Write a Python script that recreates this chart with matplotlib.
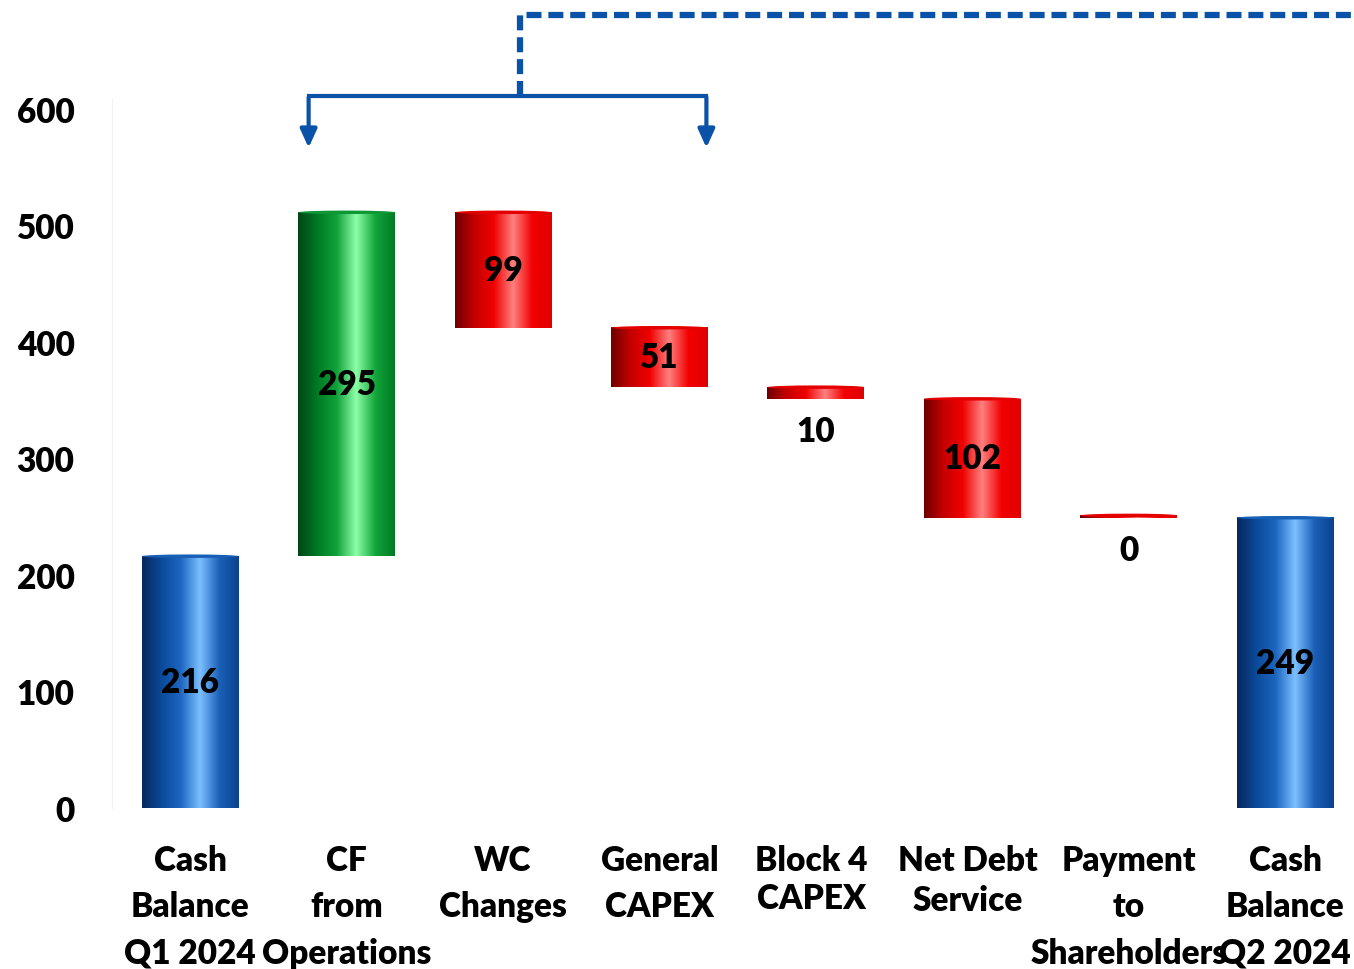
import numpy as np
import matplotlib.pyplot as plt
from matplotlib.colors import LinearSegmentedColormap
from matplotlib.patches import Ellipse

plt.rcParams['font.family'] = ['Lato', 'DejaVu Sans']
plt.rcParams['font.weight'] = 'heavy'

labels = ["Cash\nBalance\nQ1 2024", "CF\nfrom\nOperations", "WC\nChanges",
          "General\nCAPEX", "Block 4\nCAPEX", "Net Debt\nService",
          "Payment\nto\nShareholders", "Cash\nBalance\nQ2 2024"]
values = [216, 295, -99, -51, -10, -102, 0, 249]
kinds = ["total", "up", "down", "down", "down", "down", "down", "total"]

# bar gradients, left edge -> highlight -> right edge
shades = {
    "total": ["#06285c", "#0b4a9a", "#1d66c0", "#7cc0ff", "#1a60b8", "#0a438e"],
    "up": ["#004516", "#007a25", "#11a13a", "#8dffa8", "#12a53a", "#007a25"],
    "down": ["#6e0000", "#c40000", "#f00000", "#ff8080", "#f20000", "#e00000"],
}
cmaps = {k: LinearSegmentedColormap.from_list(k, c) for k, c in shades.items()}

# waterfall bottoms / tops
bottoms, tops = [], []
level = 0
for v, k in zip(values, kinds):
    if k == "total":
        bottoms.append(0)
        tops.append(v)
        level = v
    else:
        new = level + v
        bottoms.append(min(level, new))
        tops.append(max(level, new))
        level = new

fig = plt.figure(figsize=(13.54, 9.70), dpi=100)
ax = fig.add_axes([112 / 1354, (970 - 809) / 970, 1 - 112 / 1354, 809 / 970])

width = 0.62
grad = np.linspace(0, 1, 256).reshape(1, -1)
for i, (b, t, k) in enumerate(zip(bottoms, tops, kinds)):
    h = max(t - b, 2)
    x0 = i - width / 2
    ax.imshow(grad, cmap=cmaps[k], aspect='auto', extent=[x0, x0 + width, b, b + h],
              interpolation='bicubic', zorder=2)
    cap = cmaps[k](0.35)
    ax.add_patch(Ellipse((i, b + h), width, 3, color=cap, zorder=3, lw=0))

# value labels
for i, (v, b, t) in enumerate(zip(values, bottoms, tops)):
    txt = str(abs(v))
    if t - b < 20:
        y = b - 28
    else:
        y = (b + t) / 2
    ax.text(i, y, txt, ha='center', va='center', fontsize=24, fontweight='heavy',
            color='black', zorder=4)

ax.set_xlim(-0.5, 7.44)
ax.set_ylim(0, 694)
ax.set_yticks([0, 100, 200, 300, 400, 500, 600])
ax.tick_params(axis='y', length=0, labelsize=24, pad=27)
for lab in ax.get_yticklabels():
    lab.set_fontweight('heavy')
ax.set_xticks([])
for s in ["top", "right", "bottom"]:
    ax.spines[s].set_visible(False)
ax.spines["left"].set_color("#f2f2f2")
ax.spines["left"].set_bounds(0, 608)

# category labels
label_x = [0, 1, 2, 3, 3.97, 4.97, 6, 7]
spacing = [1.55, 1.55, 1.55, 1.55, 1.24, 1.3, 1.55, 1.55]
for i, lab in enumerate(labels):
    ax.text(label_x[i], -31, lab, ha='center', va='top', fontsize=24,
            fontweight='heavy', linespacing=spacing[i], clip_on=False)

# bracket over operating cash flow and general capex
blue = "#0a52a8"
ax.plot([0.757, 3.30], [611, 611], color=blue, lw=3, clip_on=False, zorder=5)
for xa in [0.757, 3.30]:
    ax.annotate("", xy=(xa, 564), xytext=(xa, 612),
                arrowprops=dict(arrowstyle="-|>,head_width=0.5,head_length=1.1",
                                color=blue, lw=3), annotation_clip=False)
ax.plot([2.11, 2.11, 7.5], [611, 680, 680], color=blue, lw=4.5,
        ls=(0, (2.4, 1.1)), clip_on=False, zorder=5)

fig.savefig("out.png", dpi=100)
